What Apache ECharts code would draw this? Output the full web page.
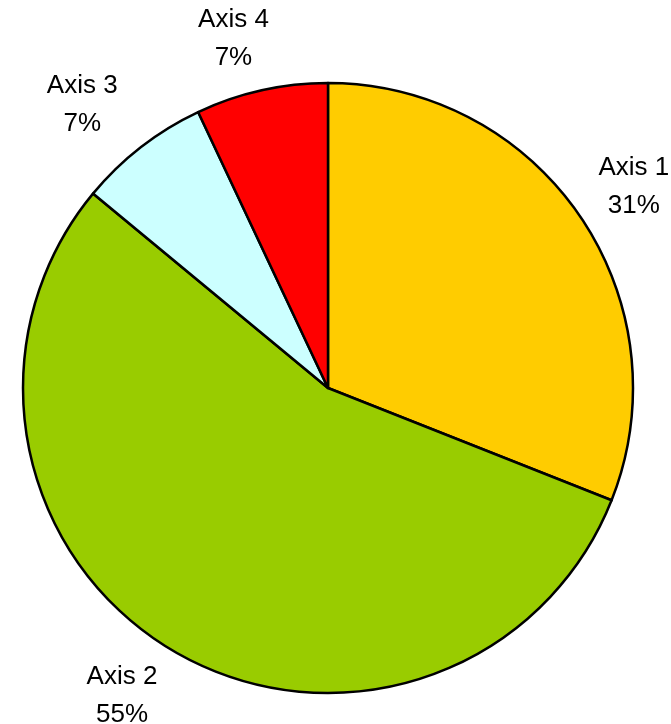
<!DOCTYPE html>
<html>
<head>
<meta charset="utf-8">
<script src="https://cdn.jsdelivr.net/npm/echarts@6/dist/echarts.min.js"></script>
<style>
  html, body { margin: 0; padding: 0; background: #fff; }
  #main { width: 671px; height: 724px; }
</style>
</head>
<body>
<div id="main"></div>
<script>
const categories = ['Axis 1', 'Axis 2', 'Axis 3', 'Axis 4']
const values = [31, 55, 7, 7]
const colors = ['#FFCC00', '#99CC00', '#CCFFFF', '#FF0000']

const chart = echarts.init(document.getElementById('main'))

const cx = 328
const cy = 388
// labels in the reference sit on a ring that is a bit wider than tall
// and slightly left of the pie centre
const stretchX = 1.07
const shiftX = -11

const pieData = categories.map((name, i) => ({
  name,
  value: values[i],
  itemStyle: { color: colors[i] },
}))
const labelData = categories.map((name, i) => ({ name, value: values[i] }))

const option = {
  animation: false,
  series: [
    {
      type: 'pie',
      center: [cx, cy],
      radius: [0, 305],
      startAngle: 90,
      clockwise: true,
      silent: true,
      data: pieData,
      itemStyle: { borderColor: '#000', borderWidth: 2.5 },
      label: { show: false },
      labelLine: { show: false },
      emphasis: { disabled: true },
    },
    {
      // invisible ring used only to place the labels
      type: 'pie',
      center: [cx, cy],
      radius: [333, 377],
      startAngle: 90,
      clockwise: true,
      silent: true,
      data: labelData,
      itemStyle: { color: 'rgba(0,0,0,0)', borderWidth: 0 },
      label: {
        show: true,
        position: 'inside',
        formatter: '{b}\n{d}%',
        fontFamily: 'Liberation Sans, Arial, sans-serif',
        fontSize: 26,
        lineHeight: 38,
        color: '#000',
        align: 'center',
      },
      labelLayout: (p) => {
        const r = p.labelRect
        const mx = r.x + r.width / 2
        const my = r.y + r.height / 2
        return {
          x: cx + shiftX + (mx - cx) * stretchX,
          y: my,
          align: 'center',
          verticalAlign: 'middle',
        }
      },
      labelLine: { show: false },
      emphasis: { disabled: true },
    },
  ],
}

option && chart.setOption(option)
</script>
</body>
</html>
